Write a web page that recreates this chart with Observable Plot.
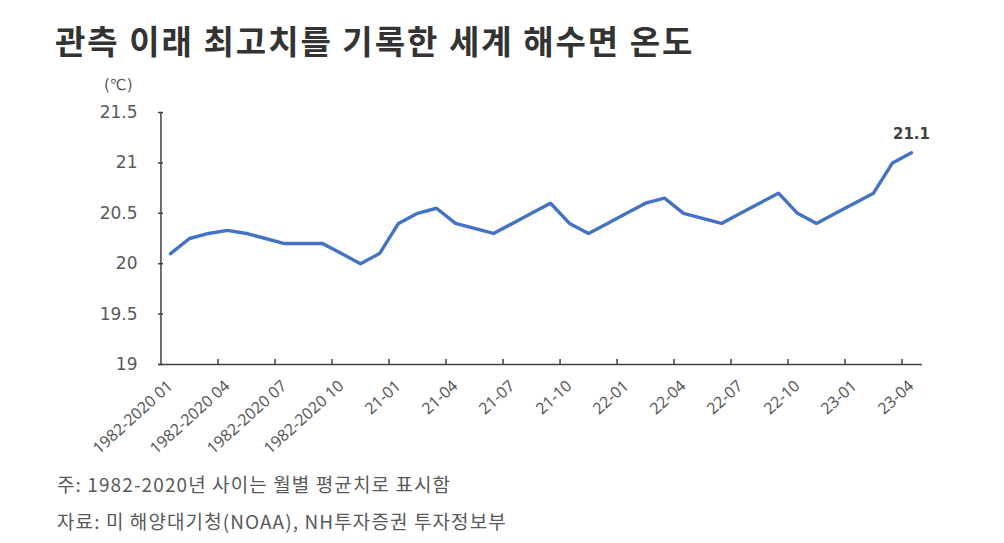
<!DOCTYPE html>
<html>
<head>
<meta charset="utf-8">
<script src="https://cdn.jsdelivr.net/npm/d3@7"></script>
<script src="https://cdn.jsdelivr.net/npm/@observablehq/plot@0.6"></script>
<style>
  html, body { margin: 0; padding: 0; background: #ffffff; }
  #wrap { position: relative; width: 1004px; height: 543px; overflow: hidden; background: #fff; }
  .title { position: absolute; left: 55px; top: 24px; font-family: "Noto Sans CJK KR", sans-serif; font-weight: 700; font-size: 33px; line-height: 1; color: #333333; white-space: nowrap; letter-spacing: 2px; }
  .unit { position: absolute; left: 104px; top: 78px; font-family: "DejaVu Sans", sans-serif; font-size: 15px; line-height: 1; color: #595959; }
  .cap { position: absolute; left: 57px; font-family: "Noto Sans CJK KR", sans-serif; font-size: 19px; line-height: 1; color: #595959; white-space: nowrap; letter-spacing: 1.1px; }
  #chart { position: absolute; left: 0; top: 75px; }
</style>
</head>
<body>
<div id="wrap">
  <div class="title">관측 이래 최고치를 기록한 세계 해수면 온도</div>
  <div id="chart"></div>
  <div class="unit">(℃)</div>
  <div class="cap" style="top:474px">주: 1982-2020년 사이는 월별 평균치로 표시함</div>
  <div class="cap" style="top:511px">자료: 미 해양대기청(NOAA), NH투자증권 투자정보부</div>
</div>
<script>
const categories = [
  "1982-2020 01","1982-2020 02","1982-2020 03","1982-2020 04","1982-2020 05","1982-2020 06",
  "1982-2020 07","1982-2020 08","1982-2020 09","1982-2020 10","1982-2020 11","1982-2020 12",
  "21-01","21-02","21-03","21-04","21-05","21-06","21-07","21-08","21-09","21-10","21-11","21-12",
  "22-01","22-02","22-03","22-04","22-05","22-06","22-07","22-08","22-09","22-10","22-11","22-12",
  "23-01","23-02","23-03","23-04"
];
const values = [
  20.1, 20.25, 20.3, 20.33, 20.3, 20.25, 20.2, 20.2, 20.2, 20.1, 20.0, 20.1,
  20.4, 20.5, 20.55, 20.4, 20.35, 20.3, 20.4, 20.5, 20.6, 20.4, 20.3, 20.4,
  20.5, 20.6, 20.65, 20.5, 20.45, 20.4, 20.5, 20.6, 20.7, 20.5, 20.4, 20.5,
  20.6, 20.7, 21.0, 21.1
];
const xTickLabels = ["1982-2020 01","1982-2020 04","1982-2020 07","1982-2020 10","21-01","21-04","21-07","21-10","22-01","22-04","22-07","22-10","23-01","23-04"];
const yTicks = [19, 19.5, 20, 20.5, 21, 21.5];

const data = categories.map((c, i) => ({cat: c, value: values[i]}));
// boundary ticks sit between the category before each label and the label
const boundaryTicks = xTickLabels.slice(1).map(l => categories[categories.indexOf(l) - 1]);

const W = 1004, H = 390, mL = 158, mR = 82;
const half = (W - mL - mR) / categories.length / 2;
const axisColor = "#404040";
const textColor = "#595959";

const chart = Plot.plot({
  width: W, height: H,
  marginLeft: mL, marginRight: mR, marginTop: 37, marginBottom: 101,
  style: {background: "transparent", overflow: "visible"},
  x: {type: "point", domain: categories, padding: 0.5, axis: null},
  y: {domain: [yTicks[0], yTicks[yTicks.length - 1]], axis: null},
  marks: [
    Plot.axisY({ticks: yTicks, tickSize: 0, tickPadding: 21, tickFormat: d => String(d), label: null,
      fontSize: 17, fontFamily: "DejaVu Sans", color: textColor}),
    Plot.axisY({ticks: yTicks, tickSize: -5, tickFormat: () => "", label: null, color: axisColor, strokeWidth: 1.5}),
    Plot.axisX({ticks: xTickLabels, tickSize: 0, tickPadding: 19, tickRotate: -42, label: null,
      fontSize: 16, fontFamily: "Noto Sans", color: textColor, letterSpacing: 1.5}),
    Plot.axisX({ticks: boundaryTicks, tickSize: -5, dx: half, tickFormat: () => "", label: null, color: axisColor, strokeWidth: 1.5}),
    Plot.ruleY([yTicks[0]], {stroke: axisColor, strokeWidth: 1.5}),
    Plot.ruleX([categories[0]], {dx: -half, y1: yTicks[0], y2: yTicks[yTicks.length - 1], stroke: axisColor, strokeWidth: 1.5}),
    Plot.line(data, {x: "cat", y: "value", stroke: "#4472C4", strokeWidth: 3.4, strokeLinejoin: "round"}),
    Plot.text(data.slice(-1), {x: "cat", y: "value", text: d => d.value.toFixed(1), dy: -19,
      fontSize: 15, fontWeight: "bold", fontFamily: "DejaVu Sans", fill: "#404040"})
  ]
});
document.getElementById("chart").appendChild(chart);
</script>
</body>
</html>
